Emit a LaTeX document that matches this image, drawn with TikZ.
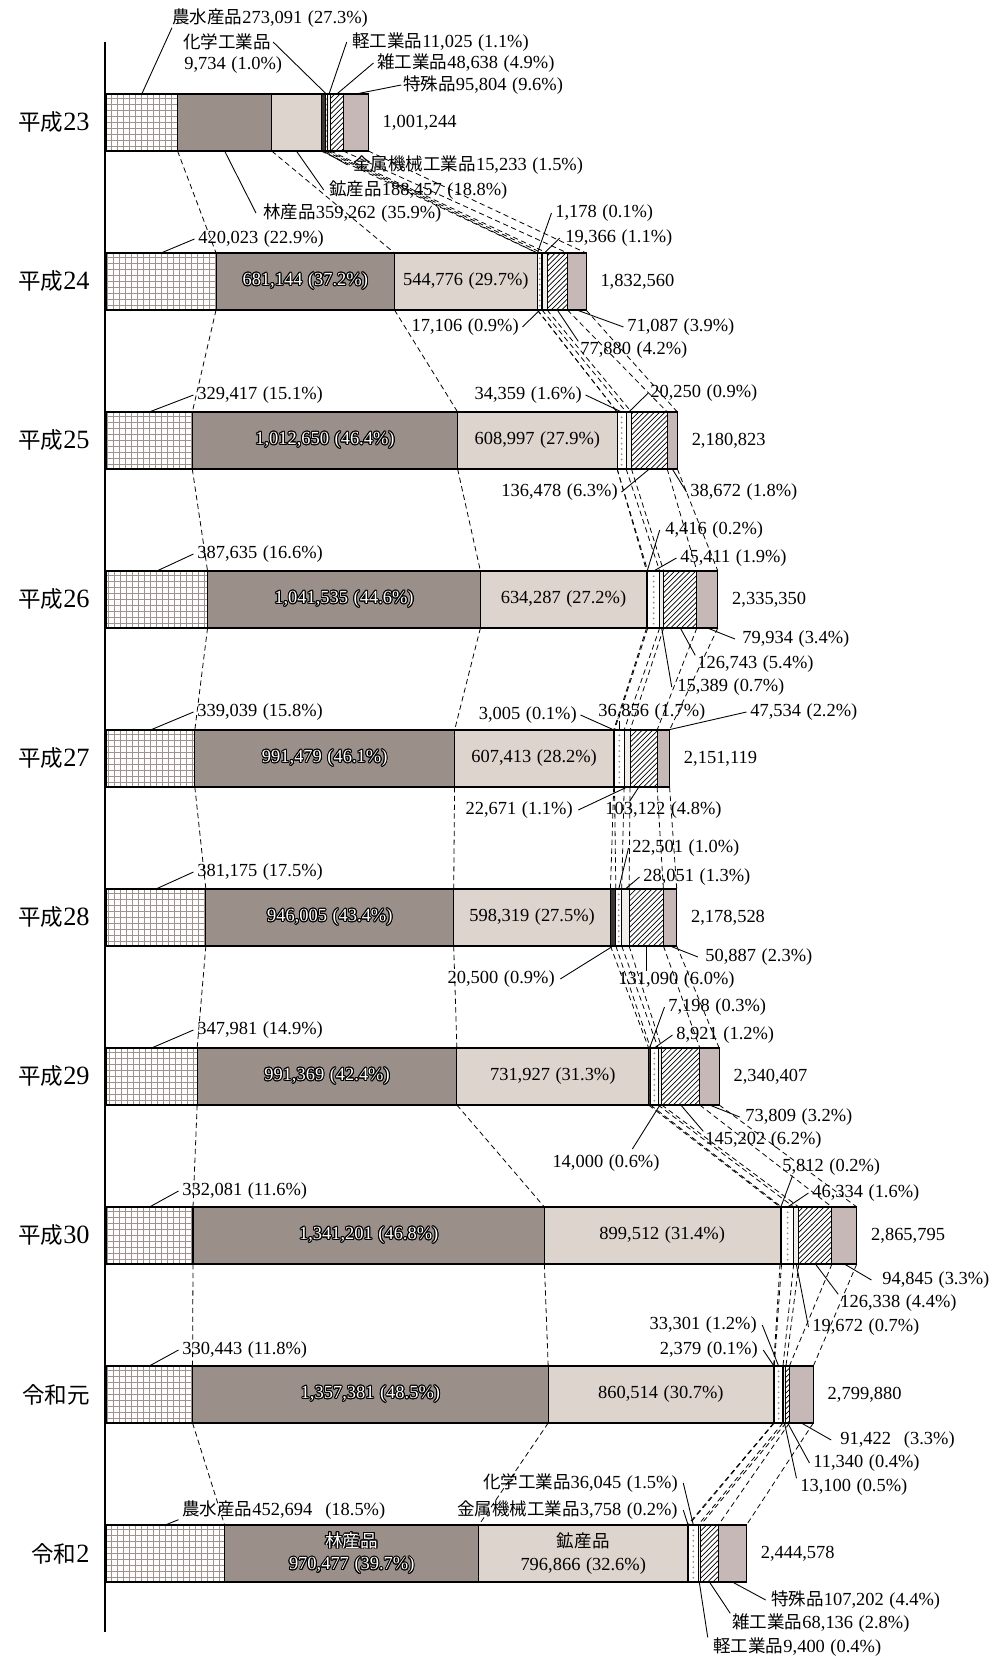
\documentclass[tikz,border=0pt]{standalone}
\usepackage{fontspec}
\setmainfont{Liberation Serif}
\newfontfamily\jp[Scale=0.95]{Noto Sans CJK JP}
\usepackage[copies]{contour}
\contourlength{0.55pt}
\usetikzlibrary{patterns,calc}

\definecolor{rinsan}{RGB}{155,144,137}
\definecolor{kosan}{RGB}{222,212,206}
\definecolor{kinzoku}{RGB}{62,54,52}
\definecolor{keiko}{RGB}{242,238,234}
\definecolor{tokushu}{RGB}{197,184,182}
\definecolor{gridcol}{RGB}{160,145,140}
\definecolor{dotcol}{RGB}{160,130,120}

\newcommand\pcent[1]{\hspace{0.3em}(#1\%)}
\newcommand\jt[1]{{\jp #1}}
\newcommand\nen[1]{{\fontsize{13.5}{16}\selectfont\jp #1}}

\tikzset{
  every node/.style={font=\fontsize{10.5}{13}\selectfont, inner sep=0pt},
  seg/.style={draw, line width=0.6pt, minimum height=1.14cm, inner sep=0pt, outer sep=0pt, anchor=north west},
  seg1/.style={seg, fill=white, path picture={\draw[gridcol, line width=0.35pt, step=0.12cm] (path picture bounding box.south west) grid (path picture bounding box.north east);}},
  seg2/.style={seg, fill=rinsan},
  seg3/.style={seg, fill=kosan},
  seg4/.style={seg, fill=kinzoku},
  seg5/.style={seg, fill=white, path picture={\draw[dotcol, line width=1.1pt, line cap=round, dash pattern=on 0pt off 3pt] (path picture bounding box.north) -- (path picture bounding box.south);}},
  seg6/.style={seg, fill=keiko},
  seg7/.style={seg, pattern=north east lines},
  seg8/.style={seg, fill=tokushu},
  yr/.style={font=\fontsize{15}{18}\selectfont, anchor=east},
  lw/.style={anchor=west},
  le/.style={anchor=east},
  lead/.style={line width=0.5pt},
  link/.style={line width=0.45pt, dash pattern=on 3pt off 2pt}
}

\begin{document}
\begin{tikzpicture}[x=0.02cm, y=-0.02cm]
\useasboundingbox (0,0) rectangle (992,1657);

\foreach \r/\yr/\vals in {
  0/{\nen{平成}23}/{273.091,359.262,188.457,15.233,9.734,11.025,48.638,95.804},
  1/{\nen{平成}24}/{420.023,681.144,544.776,1.178,17.106,19.366,77.880,71.087},
  2/{\nen{平成}25}/{329.417,1012.650,608.997,0,34.359,20.250,136.478,38.672},
  3/{\nen{平成}26}/{387.635,1041.535,634.287,4.416,45.411,15.389,126.743,79.934},
  4/{\nen{平成}27}/{339.039,991.479,607.413,3.005,36.856,22.671,103.122,47.534},
  5/{\nen{平成}28}/{381.175,946.005,598.319,20.500,22.501,28.051,131.090,50.887},
  6/{\nen{平成}29}/{347.981,991.369,731.927,7.198,28.921,14.000,145.202,73.809},
  7/{\nen{平成}30}/{332.081,1341.201,899.512,5.812,46.334,19.672,126.338,94.845},
  8/{\nen{令和元}}/{330.443,1357.381,860.514,2.379,33.301,11.340,13.100,91.422},
  9/{\nen{令和}2}/{452.694,970.477,796.866,3.758,36.045,9.400,68.136,107.202}}{
  \pgfmathsetmacro\ytop{94+159*\r}
  \node[yr] (y\r) at (90,\ytop+28.5) {\yr};
  \gdef\cum{0}
  \foreach \v [count=\k] in \vals {
    \pgfmathsetmacro\w{\v/3.817}
    \node[seg\k, minimum width=\w*0.02cm] (s\r-\k) at (106+\cum,\ytop) {};
    \pgfmathsetmacro\c{\cum+\w}
    \xdef\cum{\c}
  }
}

\foreach \r in {0,...,8}{
  \pgfmathtruncatemacro\rn{\r+1}
  \foreach \k in {1,...,8}
    \draw[link] (s\r-\k.south east) -- (s\rn-\k.north east);
}

\coordinate (axtop) at (105,42);
\coordinate (axbot) at (105,1632);
\draw[line width=1.5pt] (axtop) -- (axbot);

\foreach \r/\t in {0/{1,001,244},1/{1,832,560},2/{2,180,823},3/{2,335,350},4/{2,151,119},
  5/{2,178,528},6/{2,340,407},7/{2,865,795},8/{2,799,880},9/{2,444,578}}
  \node[lw] (t\r) at ([xshift=8pt]s\r-8.east) {\t};

\foreach \r/\ta/\tb in {1/{681,144\pcent{37.2}}/{544,776\pcent{29.7}},
  2/{1,012,650\pcent{46.4}}/{608,997\pcent{27.9}},
  3/{1,041,535\pcent{44.6}}/{634,287\pcent{27.2}},
  4/{991,479\pcent{46.1}}/{607,413\pcent{28.2}},
  5/{946,005\pcent{43.4}}/{598,319\pcent{27.5}},
  6/{991,369\pcent{42.4}}/{731,927\pcent{31.3}},
  7/{1,341,201\pcent{46.8}}/{899,512\pcent{31.4}},
  8/{1,357,381\pcent{48.5}}/{860,514\pcent{30.7}}}{
  \node[text=white] (i\r a) at (s\r-2) {\contour{black}{\ta}};
  \node (i\r b) at (s\r-3) {\tb};
}
\node[text=white, align=center] (i9a) at (s9-2) {\contour{black}{\jt{林産品}}\\\contour{black}{970,477\pcent{39.7}}};
\node[align=center] (i9b) at (s9-3) {\jt{鉱産品}\\796,866\pcent{32.6}};

% 平成23
\node[lw] (l0a) at (172,18) {\jt{農水産品}273,091\pcent{27.3}};
\node[lw] (l0b) at (183,42) {\jt{化学工業品}};
\node[lw] (l0c) at (184,65) {9,734\pcent{1.0}};
\node[lw] (l0d) at (352,42) {\jt{軽工業品}11,025\pcent{1.1}};
\node[lw] (l0e) at (377,63) {\jt{雑工業品}48,638\pcent{4.9}};
\node[lw] (l0f) at (403,85) {\jt{特殊品}95,804\pcent{9.6}};
\node[lw] (l0h) at (353,165) {\jt{金属機械工業品}15,233\pcent{1.5}};
\node[lw] (l0i) at (329,190) {\jt{鉱産品}188,457\pcent{18.8}};
\node[lw] (l0j) at (263,213) {\jt{林産品}359,262\pcent{35.9}};
\draw[lead] (s0-1.north) -- (l0a.south west);
\draw[lead] (s0-5.north) -- ([xshift=1pt]l0b.east);
\draw[lead] (s0-6.north) -- ([xshift=-3pt]l0d.west);
\draw[lead] (s0-7.north) -- ([xshift=-2pt]l0e.west);
\draw[lead] (s0-8.north) -- ([xshift=-1pt]l0f.west);
\draw[lead] (s0-4.south) -- ([xshift=-3pt]l0h.west);
\draw[lead] (s0-3.south) -- ([xshift=-3pt]l0i.west);
\draw[lead] (s0-2.south) -- ([xshift=-4pt]l0j.west);

% 平成24
\node[lw] (l1a) at (198,239) {420,023\pcent{22.9}};
\node[lw] (l1b) at (555,213) {1,178\pcent{0.1}};
\node[lw] (l1c) at (565,238) {19,366\pcent{1.1}};
\node[le] (l1d) at (519,327) {17,106\pcent{0.9}};
\node[lw] (l1e) at (627,327) {71,087\pcent{3.9}};
\node[lw] (l1f) at (580,350) {77,880\pcent{4.2}};
\draw[lead] (s1-1.north) -- ([xshift=-2pt]l1a.west);
\draw[lead] (s1-4.north) -- ([xshift=-2pt]l1b.west);
\draw[lead] (s1-6.north) -- ([xshift=-3pt]l1c.west);
\draw[lead] (s1-5.south) -- ([xshift=2pt]l1d.east);
\draw[lead] (s1-8.south) -- ([xshift=-2pt]l1e.west);
\draw[lead] (s1-7.south) -- ([xshift=-1pt]l1f.north west);

% 平成25
\node[lw] (l2a) at (197,395) {329,417\pcent{15.1}};
\node[le] (l2b) at (582,395) {34,359\pcent{1.6}};
\node[lw] (l2c) at (650,393) {20,250\pcent{0.9}};
\node[le] (l2d) at (618,492) {136,478\pcent{6.3}};
\node[lw] (l2e) at (690,492) {38,672\pcent{1.8}};
\draw[lead] (s2-1.north) -- ([xshift=-2pt]l2a.west);
\draw[lead] (s2-5.north) -- ([xshift=2pt]l2b.east);
\draw[lead] (s2-6.north) -- ([xshift=-1pt]l2c.west);
\draw[lead] (s2-7.south) -- ([xshift=2pt]l2d.east);
\draw[lead] (s2-8.south) -- ([xshift=-2pt]l2e.west);

% 平成26
\node[lw] (l3a) at (197,554) {387,635\pcent{16.6}};
\node[lw] (l3b) at (665,530) {4,416\pcent{0.2}};
\node[lw] (l3c) at (680,558) {45,411\pcent{1.9}};
\node[lw] (l3d) at (742,639) {79,934\pcent{3.4}};
\node[lw] (l3e) at (697,664) {126,743\pcent{5.4}};
\node[lw] (l3f) at (677,687) {15,389\pcent{0.7}};
\draw[lead] (s3-1.north) -- ([xshift=-2pt]l3a.west);
\draw[lead] (s3-4.north) -- ([xshift=-3pt]l3b.west);
\draw[lead] (s3-5.north) -- ([xshift=-2pt]l3c.west);
\draw[lead] (s3-8.south) -- ([xshift=-4pt]l3d.west);
\draw[lead] (s3-7.south) -- ([xshift=-1pt]l3e.north west);
\draw[lead] (s3-6.south) -- ([xshift=-3pt]l3f.west);

% 平成27
\node[lw] (l4a) at (197,712) {339,039\pcent{15.8}};
\node[le] (l4b) at (577,715) {3,005\pcent{0.1}};
\node[lw] (l4c) at (598,712) {36,856\pcent{1.7}};
\node[lw] (l4d) at (750,712) {47,534\pcent{2.2}};
\node[le] (l4e) at (573,810) {22,671\pcent{1.1}};
\node[lw] (l4f) at (605,810) {103,122\pcent{4.8}};
\draw[lead] (s4-1.north) -- ([xshift=-2pt]l4a.west);
\draw[lead] (s4-4.north) -- ([xshift=2pt]l4b.east);
\draw[lead] (s4-5.north) -- (s4-5.north |- l4c.south);
\draw[lead] ([xshift=-1pt]s4-8.north east) -- ([xshift=-2pt]l4d.west);
\draw[lead] (s4-6.south) -- ([xshift=3pt]l4e.east);
\draw[lead] ([xshift=5pt]s4-7.south west) -- ([xshift=14pt]l4f.north west);

% 平成28
\node[lw] (l5a) at (197,872) {381,175\pcent{17.5}};
\node[lw] (l5b) at (632,848) {22,501\pcent{1.0}};
\node[lw] (l5c) at (643,877) {28,051\pcent{1.3}};
\node[le] (l5d) at (555,979) {20,500\pcent{0.9}};
\node[lw] (l5e) at (618,980) {131,090\pcent{6.0}};
\node[lw] (l5f) at (705,957) {50,887\pcent{2.3}};
\draw[lead] (s5-1.north) -- ([xshift=-2pt]l5a.west);
\draw[lead] (s5-5.north) -- ([xshift=-2pt]l5b.west);
\draw[lead] (s5-6.north) -- ([xshift=-2pt]l5c.west);
\draw[lead] (s5-4.south) -- ([xshift=3pt]l5d.east);
\draw[lead] (s5-7.south) -- (s5-7.south |- l5e.north);
\draw[lead] (s5-8.south) -- ([xshift=-4pt]l5f.west);

% 平成29
\node[lw] (l6a) at (197,1030) {347,981\pcent{14.9}};
\node[lw] (l6b) at (668,1007) {7,198\pcent{0.3}};
\node[lw] (l6c) at (676,1035) {8,921\pcent{1.2}};
\node[lw] (l6d) at (745,1117) {73,809\pcent{3.2}};
\node[lw] (l6e) at (705,1140) {145,202\pcent{6.2}};
\node (l6f) at (606,1163) {14,000\pcent{0.6}};
\draw[lead] (s6-1.north) -- ([xshift=-2pt]l6a.west);
\draw[lead] (s6-4.north) -- ([xshift=-2pt]l6b.west);
\draw[lead] (s6-5.north) -- ([xshift=-2pt]l6c.west);
\draw[lead] (s6-8.south) -- ([xshift=-3pt]l6d.west);
\draw[lead] (s6-7.south) -- ([xshift=-1pt]l6e.north west);
\draw[lead] (s6-6.south) -- ([xshift=15pt,yshift=3pt]l6f.north);

% 平成30
\node[lw] (l7a) at (182,1191) {332,081\pcent{11.6}};
\node[lw] (l7b) at (782,1167) {5,812\pcent{0.2}};
\node[lw] (l7c) at (812,1193) {46,334\pcent{1.6}};
\node[lw] (l7d) at (882,1280) {94,845\pcent{3.3}};
\node[lw] (l7e) at (840,1303) {126,338\pcent{4.4}};
\node[lw] (l7f) at (812,1327) {19,672\pcent{0.7}};
\draw[lead] (s7-1.north) -- ([xshift=-2pt]l7a.west);
\draw[lead] (s7-4.north) -- ([xshift=6pt]l7b.south west);
\draw[lead] (s7-5.north) -- ([xshift=-2pt]l7c.west);
\draw[lead] (s7-8.south) -- ([xshift=-6pt]l7d.west);
\draw[lead] (s7-7.south) -- ([xshift=-1pt]l7e.north west);
\draw[lead] (s7-6.south) -- ([xshift=-2pt]l7f.west);

% 令和元
\node[lw] (l8a) at (182,1350) {330,443\pcent{11.8}};
\node[le] (l8b) at (757,1325) {33,301\pcent{1.2}};
\node[le] (l8c) at (758,1350) {2,379\pcent{0.1}};
\node[lw] (l8d) at (840,1440) {91,422\hspace{0.7em}(3.3\%)};
\node[lw] (l8e) at (813,1463) {11,340\pcent{0.4}};
\node[lw] (l8f) at (800,1487) {13,100\pcent{0.5}};
\draw[lead] (s8-1.north) -- ([xshift=-2pt]l8a.west);
\draw[lead] (s8-5.north) -- ([xshift=3pt]l8b.east);
\draw[lead] (s8-4.north) -- ([xshift=3pt]l8c.east);
\draw[lead] (s8-8.south) -- ([xshift=-5pt]l8d.west);
\draw[lead] (s8-7.south) -- ([xshift=-2pt]l8e.west);
\draw[lead] (s8-6.south) -- ([xshift=-2pt]l8f.north west);

% 令和2
\node[lw] (l9a) at (182,1510) {\jt{農水産品}452,694\hspace{0.7em}(18.5\%)};
\node[le] (l9b) at (678,1483) {\jt{化学工業品}36,045\pcent{1.5}};
\node[le] (l9c) at (678,1510) {\jt{金属機械工業品}3,758\pcent{0.2}};
\node[lw] (l9d) at (771,1600) {\jt{特殊品}107,202\pcent{4.4}};
\node[lw] (l9e) at (732,1623) {\jt{雑工業品}68,136\pcent{2.8}};
\node[lw] (l9f) at (713,1647) {\jt{軽工業品}9,400\pcent{0.4}};
\draw[lead] (s9-1.north) -- ([xshift=-2pt]l9a.south west);
\draw[lead] (s9-5.north) -- ([xshift=3pt]l9b.east);
\draw[lead] (s9-4.north) -- ([xshift=3pt]l9c.east);
\draw[lead] (s9-8.south) -- ([xshift=-3pt]l9d.west);
\draw[lead] (s9-7.south) -- ([xshift=-1pt]l9e.north west);
\draw[lead] (s9-6.south) -- ([xshift=-3pt]l9f.north west);
\end{tikzpicture}
\end{document}
